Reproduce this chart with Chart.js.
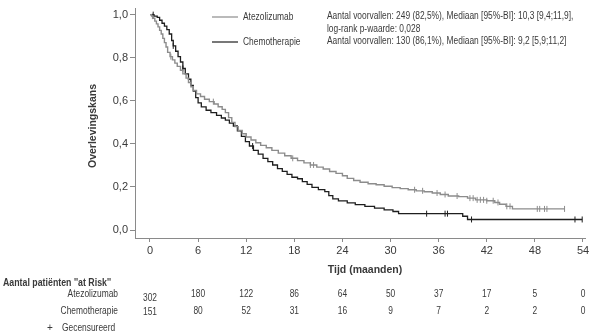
<!DOCTYPE html>
<html>
<head>
<meta charset="utf-8">
<script src="https://cdn.jsdelivr.net/npm/chart.js@4/dist/chart.umd.min.js"></script>
<style>
  html, body { margin: 0; padding: 0; background: #fff; }
  #wrap { width: 605px; height: 336px; position: relative; }
</style>
</head>
<body>
<div id="wrap"><canvas id="km" width="605" height="336"></canvas></div>
<script>
// Kaplan-Meier overall survival, Atezolizumab vs Chemotherapie
const timeTicks = [0, 6, 12, 18, 24, 30, 36, 42, 48, 54];
const survTicks = [0, 0.2, 0.4, 0.6, 0.8, 1.0];

const atezoTime = [0, 0.2, 0.4, 0.6, 0.8, 1.0, 1.2, 1.4, 1.6, 1.8, 2.0, 2.2, 2.5, 2.8, 3.1, 3.4, 3.8, 4.1, 4.5, 4.8,
  5.1, 5.4, 5.8, 6.3, 6.8, 7.4, 8.0, 8.5, 9.0, 9.4, 9.8, 10.2, 10.6, 11.0, 11.5, 12.0, 12.6, 13.2, 13.8, 14.5,
  15.2, 16.0, 16.8, 17.6, 18.4, 19.2, 20.0, 20.8, 21.6, 22.4, 23.2, 24.0, 24.6, 25.4, 26.2, 27.2, 28.2, 29.2, 30.2, 31.2,
  32.2, 33.2, 34.2, 35.2, 36.2, 37.2, 38.5, 39.6, 40.6, 42.0, 43.0, 43.6, 44.4, 45.2, 51.7];
const atezoSurv = [1.0, 0.993, 0.983, 0.970, 0.957, 0.943, 0.927, 0.910, 0.890, 0.870, 0.850, 0.825, 0.805, 0.790, 0.775, 0.760, 0.742, 0.725, 0.705, 0.685,
  0.665, 0.648, 0.632, 0.620, 0.607, 0.596, 0.585, 0.572, 0.560, 0.545, 0.522, 0.500, 0.480, 0.462, 0.447, 0.432, 0.418, 0.405, 0.393, 0.382,
  0.370, 0.357, 0.345, 0.333, 0.322, 0.312, 0.302, 0.292, 0.283, 0.272, 0.263, 0.252, 0.240, 0.230, 0.222, 0.215, 0.210, 0.203, 0.197, 0.192,
  0.187, 0.182, 0.178, 0.172, 0.165, 0.158, 0.155, 0.148, 0.140, 0.136, 0.128, 0.120, 0.110, 0.098, 0.098];

const chemoTime = [0, 0.5, 0.9, 1.2, 1.5, 1.8, 2.1, 2.4, 2.7, 2.9, 3.2, 3.5, 3.8, 4.1, 4.4, 4.8, 5.1, 5.4, 5.7, 6.0,
  6.4, 7.0, 7.6, 8.3, 8.9, 9.4, 9.9, 10.4, 10.9, 11.4, 11.9, 12.4, 12.9, 13.5, 14.1, 14.7, 15.3, 15.9, 16.5, 17.1,
  17.7, 18.4, 19.0, 19.6, 20.2, 21.0, 21.8, 22.3, 22.8, 23.5, 24.6, 25.6, 26.8, 28.0, 29.2, 30.3, 31.0, 39.0, 39.6, 53.9];
const chemoSurv = [1.0, 0.993, 0.987, 0.974, 0.960, 0.947, 0.930, 0.910, 0.880, 0.855, 0.830, 0.805, 0.780, 0.750, 0.725, 0.700, 0.672, 0.645, 0.615, 0.590,
  0.572, 0.556, 0.545, 0.532, 0.520, 0.510, 0.496, 0.483, 0.460, 0.435, 0.410, 0.390, 0.370, 0.352, 0.333, 0.318, 0.302, 0.285, 0.272, 0.258,
  0.245, 0.238, 0.225, 0.212, 0.198, 0.188, 0.178, 0.160, 0.145, 0.135, 0.126, 0.118, 0.110, 0.102, 0.094, 0.086, 0.076, 0.064, 0.049, 0.049];

// censoring times (the mark sits on the curve at that time)
const atezoCensor = [0.3, 2.6, 7.9, 17.8, 20.0, 20.4, 33.0, 34.0, 35.8, 36.8, 38.3, 39.9, 40.3, 40.8, 41.2, 41.6, 42.0,
  42.8, 43.4, 44.5, 44.9, 48.3, 48.6, 49.2, 49.5, 51.7];
const chemoCensor = [0.4, 2.9, 4.1, 12.8, 34.5, 36.8, 37.1, 40.1, 53.0, 53.9];

// at-risk table
const riskAtezo = [302, 180, 122, 86, 64, 50, 37, 17, 5, 0];
const riskChemo = [151, 80, 52, 31, 16, 9, 7, 2, 2, 0];

const seriesNames = ['Atezolizumab', 'Chemotherapie'];
const seriesNotes = [
  ['Aantal voorvallen: 249 (82,5%), Mediaan [95%-BI]: 10,3 [9,4;11,9],', 'log-rank p-waarde: 0,028'],
  ['Aantal voorvallen: 130 (86,1%), Mediaan [95%-BI]: 9,2 [5,9;11,2]']
];

const GRAY = '#8c8c8c';
const DARK = '#1e1e1e';
const AXIS = '#8a8a8a';
const TEXT = '#3a3a3a';
const SANS = '"Liberation Sans", Arial, sans-serif';

function pts(t, s) { return t.map((v, i) => ({ x: v, y: s[i] })); }
function survAt(t, s, x) {
  let v = s[0];
  for (let i = 0; i < t.length; i++) { if (t[i] <= x) v = s[i]; else break; }
  return v;
}
function censorPts(ct, t, s) { return ct.map(x => ({ x: x, y: survAt(t, s, x) })); }
function comma(v) { return v.toFixed(1).replace('.', ','); }

// horizontally condensed text
function narrowText(ctx, str, x, y, align, k) {
  ctx.save();
  ctx.translate(x, y);
  ctx.scale(k || 0.84, 1);
  ctx.textAlign = align;
  ctx.fillText(str, 0, 0);
  ctx.restore();
}

const overlay = {
  id: 'overlay',
  afterDraw(chart) {
    const ctx = chart.ctx;
    const xs = chart.scales.x;
    ctx.save();
    ctx.fillStyle = TEXT;
    ctx.textBaseline = 'middle';

    // legend
    const legendY = [17, 42];
    const colors = [GRAY, DARK];
    ctx.font = '10px ' + SANS;
    for (let i = 0; i < 2; i++) {
      ctx.strokeStyle = colors[i];
      ctx.lineWidth = 1.2;
      ctx.beginPath();
      ctx.moveTo(212, legendY[i]);
      ctx.lineTo(238, legendY[i]);
      ctx.stroke();
      narrowText(ctx, seriesNames[i], 243, legendY[i], 'left');
      seriesNotes[i].forEach((line, k) => narrowText(ctx, line, 327, legendY[i] - 1 + k * 13, 'left'));
    }

    // axis titles
    ctx.font = 'bold 10.5px ' + SANS;
    ctx.textAlign = 'center';
    ctx.fillText('Tijd (maanden)', 365, 270);
    ctx.save();
    ctx.translate(93, 126);
    ctx.rotate(-Math.PI / 2);
    ctx.fillText('Overlevingskans', 0, 0);
    ctx.restore();

    // at-risk table
    ctx.font = 'bold 10px ' + SANS;
    narrowText(ctx, 'Aantal patiënten \'\'at Risk\'\'', 3, 283, 'left', 0.88);
    ctx.font = '10px ' + SANS;
    narrowText(ctx, seriesNames[0], 118, 294, 'right');
    narrowText(ctx, seriesNames[1], 118, 311, 'right');
    timeTicks.forEach((t, i) => {
      const px = xs.getPixelForValue(t);
      narrowText(ctx, String(riskAtezo[i]), px, i === 0 ? 298 : 294, 'center');
      narrowText(ctx, String(riskChemo[i]), px, i === 0 ? 312 : 311, 'center');
    });
    narrowText(ctx, '+', 47, 328, 'left', 1);
    narrowText(ctx, 'Gecensureerd', 62, 328, 'left');
    ctx.restore();
  }
};

new Chart(document.getElementById('km'), {
  type: 'line',
  data: {
    datasets: [
      { label: seriesNames[0], data: pts(atezoTime, atezoSurv), stepped: true, borderColor: GRAY, borderWidth: 1.4, pointRadius: 0, fill: false },
      { label: seriesNames[1], data: pts(chemoTime, chemoSurv), stepped: true, borderColor: DARK, borderWidth: 1.3, pointRadius: 0, fill: false },
      { label: 'cA', data: censorPts(atezoCensor, atezoTime, atezoSurv), showLine: false, pointStyle: 'line', rotation: 90, pointRadius: 3, borderColor: GRAY, borderWidth: 1, pointBorderColor: GRAY },
      { label: 'cC', data: censorPts(chemoCensor, chemoTime, chemoSurv), showLine: false, pointStyle: 'line', rotation: 90, pointRadius: 3, borderColor: DARK, borderWidth: 1, pointBorderColor: DARK }
    ]
  },
  options: {
    responsive: false,
    animation: false,
    layout: { padding: { left: 0, right: 20, top: 8, bottom: 0 } },
    plugins: { legend: { display: false }, tooltip: { enabled: false } },
    scales: {
      x: {
        type: 'linear',
        min: -1.87,
        max: 54.25,
        afterBuildTicks(s) { s.ticks = timeTicks.map(v => ({ value: v })); },
        afterFit(s) { s.height = 98; },
        ticks: { color: TEXT, font: { family: SANS, size: 11 }, padding: 2, maxRotation: 0, callback: v => String(v) },
        grid: { drawOnChartArea: false, drawTicks: true, tickLength: 4, color: AXIS },
        border: { display: true, color: AXIS, width: 1 }
      },
      y: {
        type: 'linear',
        min: -0.037,
        max: 1.028,
        afterBuildTicks(s) { s.ticks = survTicks.map(v => ({ value: v })); },
        afterFit(s) { s.width = 135; },
        ticks: { color: TEXT, font: { family: SANS, size: 11 }, padding: 2, callback: v => comma(v) },
        grid: { drawOnChartArea: false, drawTicks: true, tickLength: 5, color: AXIS },
        border: { display: true, color: AXIS, width: 1 }
      }
    }
  },
  plugins: [overlay]
});
</script>
</body>
</html>
